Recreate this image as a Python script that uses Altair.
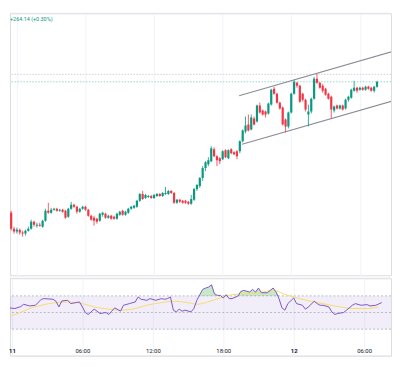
import altair as alt
import pandas as pd

# ---------------- data ----------------
START_HOUR = -0.75      # first 15-minute candle, hours from 00:00 of day 11
STEP_HOURS = 0.25

opens = [85600,85760,85440,85380,85420,85360,85340,85400,85440,85580,
         85500,85520,85480,85600,85800,85760,85820,85840,85800,85820,
         85800,85680,85840,85920,85880,85780,85840,85880,85820,85700,
         85660,85640,85600,85720,85740,85660,85700,85680,85640,85720,
         85800,85720,85760,85840,85860,85880,86000,86140,86060,86080,
         86100,86060,86100,86140,86100,86140,86140,86200,86160,85960,
         86020,86000,86000,85980,85940,86020,86240,86300,86460,86660,
         86740,86800,87040,86900,86860,86840,87020,86860,87040,86980,
         87000,87000,87200,87400,87540,87440,87660,87600,87920,87820,
         87800,87760,87940,88260,88160,87980,87880,87640,87500,87780,
         88160,88380,88320,88160,88040,87740,87800,88060,88460,88380,
         88320,88260,88160,88100,87820,87920,87860,87920,87860,88040,
         88080,88220,88280,88240,88280,88240,88300,88280,88220,88300]
highs = [85840,85800,85480,85460,85440,85400,85420,85480,85620,85600,
         85560,85560,85620,85840,85960,85860,85860,85860,85840,85840,
         85820,85860,85980,85940,85900,85860,85900,85900,85840,85720,
         85700,85660,85760,85780,85760,85720,85720,85700,85760,85800,
         85820,85800,85860,85900,85920,86020,86160,86200,86140,86120,
         86120,86140,86160,86160,86180,86280,86220,86220,86180,86040,
         86040,86020,86020,86000,86120,86260,86340,86480,86700,86800,
         86880,87100,87080,86920,86880,87020,87040,87040,87060,87000,
         87020,87220,87440,87700,87740,87740,87700,87940,87980,87840,
         87820,87980,88260,88300,88180,88000,87900,87660,87800,88180,
         88440,88400,88340,88180,88060,87940,88080,88500,88560,88400,
         88360,88280,88180,88120,87920,87940,87940,87940,88060,88120,
         88260,88420,88300,88300,88300,88320,88320,88300,88320,88420]
lows = [85580,85400,85340,85340,85320,85280,85300,85380,85420,85480,
        85460,85480,85460,85580,85740,85740,85800,85780,85780,85760,
        85640,85660,85820,85860,85740,85760,85820,85800,85680,85600,
        85500,85540,85580,85680,85640,85640,85620,85620,85620,85700,
        85700,85700,85740,85820,85840,85860,85980,86020,86040,86060,
        86040,86040,86080,86080,86080,86120,86120,86140,85940,85940,
        85960,85940,85940,85920,85920,86000,86200,86260,86400,86600,
        86700,86780,86880,86700,86740,86820,86860,86840,86940,86920,
        86840,86960,87180,87360,87400,87420,87520,87580,87760,87720,
        87680,87740,87920,88140,87960,87840,87520,87380,87460,87760,
        88140,88280,87980,88000,87800,87500,87760,88040,88360,88260,
        88180,88120,88040,87660,87780,87840,87840,87820,87840,88000,
        88060,88200,88180,88220,88220,88220,88240,88200,88180,88280]
closes = [85800,85440,85380,85420,85360,85340,85400,85440,85580,85520,
          85520,85500,85600,85800,85760,85820,85840,85800,85820,85780,
          85660,85840,85920,85880,85780,85840,85880,85820,85700,85620,
          85600,85580,85740,85760,85660,85700,85640,85640,85740,85780,
          85720,85780,85840,85880,85900,86000,86140,86040,86120,86100,
          86060,86120,86140,86100,86160,86160,86200,86160,85960,86020,
          85980,85960,85960,85940,86040,86240,86320,86460,86660,86780,
          86820,87060,86900,86820,86800,87000,86880,87020,86960,86940,
          86900,87200,87420,87520,87420,87680,87540,87920,87780,87740,
          87740,87960,88240,88160,87980,87860,87540,87500,87780,88160,
          88400,88320,88000,88040,87840,87800,88060,88460,88380,88280,
          88220,88140,88060,87840,87900,87860,87920,87840,88040,88100,
          88240,88280,88220,88280,88240,88300,88260,88220,88300,88400]

rsi_hours = [-0.75,-0.5,-0.25,0.25,0.75,1.0,1.5,2.0,2.5,2.75,3.5,3.75,4.0,4.25,4.75,5.0,
             5.75,6.0,6.25,6.5,7.0,7.25,7.5,8.0,8.25,8.5,8.75,9.25,9.5,10.0,10.5,10.75,
             11.0,11.5,11.75,12.25,12.75,13.0,13.25,13.5,13.75,14.0,14.25,14.5,14.75,15.25,
             15.5,15.75,16.0,16.25,16.5,16.75,17.0,17.25,17.5,17.75,18.0,18.25,18.5,18.75,
             19.25,19.5,19.75,20.25,20.5,20.75,21.0,21.25,21.75,22.0,22.25,22.5,22.75,23.0,
             23.25,23.5,24.0,24.25,24.75,25.0,25.25,25.75,26.0,26.25,26.5,27.0,27.25,27.5,
             27.75,28.25,28.5,29.0,29.25,29.75,30.25,30.5,31.0,31.5]
rsi_values = [60.7,56.7,55.6,54.8,57.1,59.9,57.9,58.7,65.9,66.7,65.9,63.5,56.7,63.9,64.7,60.7,
              62.7,56.7,50.0,47.6,54.0,51.6,48.8,50.0,47.6,51.6,55.6,51.6,58.7,60.7,62.7,68.7,
              65.9,64.7,66.7,64.7,66.7,65.9,66.7,68.7,52.8,50.8,54.0,51.6,52.8,50.8,
              54.8,64.7,71.4,77.8,79.4,80.6,83.3,72.6,70.6,70.6,67.5,71.4,66.7,66.7,
              69.8,75.4,76.6,74.6,77.8,74.6,79.4,73.8,73.8,76.6,79.4,74.6,66.7,55.6,
              52.8,60.7,67.5,60.7,58.7,54.0,56.7,63.5,60.7,58.7,58.7,56.7,50.8,47.6,
              48.8,50.0,52.8,58.7,60.7,58.7,59.5,57.9,58.7,61.9]

ma_hours = [-0.75,-0.25,0.5,1.5,2.5,3.75,4.75,6.0,7.0,8.25,9.25,10.5,11.5,12.75,13.75,15.0,
            15.75,16.5,17.75,18.75,20.0,21.0,22.25,23.5,24.5,25.75,26.75,28.0,29.0,30.25,31.25]
ma_values = [46.8,46.0,48.8,54.8,58.7,61.9,62.7,60.7,56.7,54.0,52.8,54.8,58.7,61.9,63.5,61.9,
             59.9,61.9,67.5,71.4,72.6,73.8,76.6,70.6,66.7,62.7,59.9,56.7,54.8,54.8,56.7]

channel_names = ["upper", "upper", "lower", "lower"]
channel_hours = [19.44, 33.5, 19.70, 33.5]
channel_prices = [88120, 89055, 87140, 88055]

high_line_value = [88550]     # gray dotted line
last_line_value = [88400]     # teal dotted last-price line

rsi_levels = [70, 50, 30]
tick_hours = [0, 6, 12, 18, 24, 30]
tick_labels = ["11", "06:00", "12:00", "18:00", "12", "06:00"]
header_text = ["+264.14 (+0.30%)"]

# ---------------- styling ----------------
GREEN = "#089981"
RED = "#f23645"
PURPLE = "#7e57c2"
YELLOW = "#f7dc6f"
GRID = "#f0f3fa"
BORDER = "#e0e3eb"

W = 384
MAIN_H = 264
RSI_H = 78
PX_PER_HOUR = 11.83
X_DOMAIN = [-0.169, -0.169 + W / PX_PER_HOUR]
PRICE_DOMAIN = [84500, 89780]
RSI_DOMAIN = [-1.9, 91.2]

label_expr = " : ".join(
    f"datum.value == {h} ? '{l}'" for h, l in zip(tick_hours, tick_labels)
) + " : ''"

xscale = alt.Scale(domain=X_DOMAIN, nice=False, zero=False)

# ---------------- main pane ----------------
candles = pd.DataFrame({
    "t": [START_HOUR + STEP_HOURS * i for i in range(len(opens))],
    "open": opens, "high": highs, "low": lows, "close": closes,
})
candles["dir"] = ["up" if c >= o else "down" for o, c in zip(opens, closes)]

x_main = alt.X("t:Q", scale=xscale,
               axis=alt.Axis(values=tick_hours, labels=False, ticks=False, domain=False,
                             grid=True, gridColor=GRID, gridWidth=1, title=None, minExtent=0))
pscale = alt.Scale(domain=PRICE_DOMAIN, nice=False, zero=False)
color = alt.Color("dir:N", scale=alt.Scale(domain=["up", "down"], range=[GREEN, RED]), legend=None)

wicks = alt.Chart(candles).mark_rule(strokeWidth=0.8, clip=True).encode(
    x=x_main, y=alt.Y("low:Q", scale=pscale, axis=None), y2="high:Q", color=color)
bodies = alt.Chart(candles).mark_bar(size=2.2, clip=True).encode(
    x=x_main, y=alt.Y("open:Q", scale=pscale, axis=None), y2="close:Q", color=color)

high_rule = alt.Chart(pd.DataFrame({"price": high_line_value})).mark_rule(
    strokeDash=[1.5, 1.5], strokeWidth=0.8, color="#c3c6ce").encode(
    y=alt.Y("price:Q", scale=pscale, axis=None))
last_rule = alt.Chart(pd.DataFrame({"price": last_line_value})).mark_rule(
    strokeDash=[1.5, 1.5], strokeWidth=0.8, color="#7fcbbd").encode(
    y=alt.Y("price:Q", scale=pscale, axis=None))

channel = pd.DataFrame({"line": channel_names, "t": channel_hours, "price": channel_prices})
channel_lines = alt.Chart(channel).mark_line(color="#8a8d96", strokeWidth=1.1, clip=True).encode(
    x=x_main, y=alt.Y("price:Q", scale=pscale, axis=None), detail="line:N")

top_border = alt.Chart(pd.DataFrame({"a": [0]})).mark_rule(color=BORDER, strokeWidth=1).encode(
    y=alt.value(0))

header = alt.Chart(pd.DataFrame({"label": header_text})).mark_text(
    align="left", baseline="middle", fontSize=5.5, color=GREEN, font="Roboto").encode(
    x=alt.value(0), y=alt.value(6), text="label:N")

main = alt.layer(high_rule, last_rule, channel_lines, wicks, bodies, top_border, header).properties(
    width=W, height=MAIN_H)

# ---------------- RSI pane ----------------
rscale = alt.Scale(domain=RSI_DOMAIN, nice=False, zero=False)
x_rsi = alt.X("t:Q", scale=xscale,
              axis=alt.Axis(values=tick_hours, labelExpr=label_expr, grid=True, gridColor=GRID,
                            domain=True, domainColor=BORDER, ticks=False, labelPadding=-8,
                            labelFontSize=6, labelColor="#131722", labelFont="Roboto",
                            labelFontWeight={"expr": "datum.value % 24 == 0 ? 'bold' : 'normal'"},
                            labelFlush=False, labelOverlap=False, title=None))

band = alt.Chart(pd.DataFrame({"hi": [rsi_levels[0]], "lo": [rsi_levels[2]]})).mark_rect(
    color=PURPLE, opacity=0.1).encode(y=alt.Y("hi:Q", scale=rscale, axis=None), y2="lo:Q")
band_lines = alt.Chart(pd.DataFrame({"level": rsi_levels})).mark_rule(
    color="#a9acb5", strokeDash=[2, 2], strokeWidth=0.8).encode(
    y=alt.Y("level:Q", scale=rscale, axis=None))

rsi_df = pd.DataFrame({"t": rsi_hours, "rsi": rsi_values})
ob_fill = alt.Chart(rsi_df).transform_calculate(
    top="max(datum.rsi, 70)", base="70").mark_area(color="#4caf50", opacity=0.3, clip=True).encode(
    x=x_rsi, y=alt.Y("top:Q", scale=rscale, axis=None), y2="base:Q")
rsi_line = alt.Chart(rsi_df).mark_line(color=PURPLE, strokeWidth=1, clip=True).encode(
    x=x_rsi, y=alt.Y("rsi:Q", scale=rscale, axis=None))
ma_df = pd.DataFrame({"t": ma_hours, "ma": ma_values})
ma_line = alt.Chart(ma_df).mark_line(color=YELLOW, strokeWidth=1, interpolate="monotone",
                                     clip=True).encode(
    x=x_rsi, y=alt.Y("ma:Q", scale=rscale, axis=None))
rsi_border = alt.Chart(pd.DataFrame({"a": [0]})).mark_rule(color=BORDER, strokeWidth=1).encode(
    y=alt.value(0))

rsi = alt.layer(band, band_lines, ob_fill, ma_line, rsi_line, rsi_border).properties(
    width=W, height=RSI_H)

chart = alt.vconcat(main, rsi, spacing=1).properties(
    padding={"top": 3, "left": 0, "right": 0, "bottom": 0},
    background="white",
).configure_view(stroke=None).configure(font="Roboto")

chart.save("out.html", embed_options={"renderer": "svg", "actions": False})
